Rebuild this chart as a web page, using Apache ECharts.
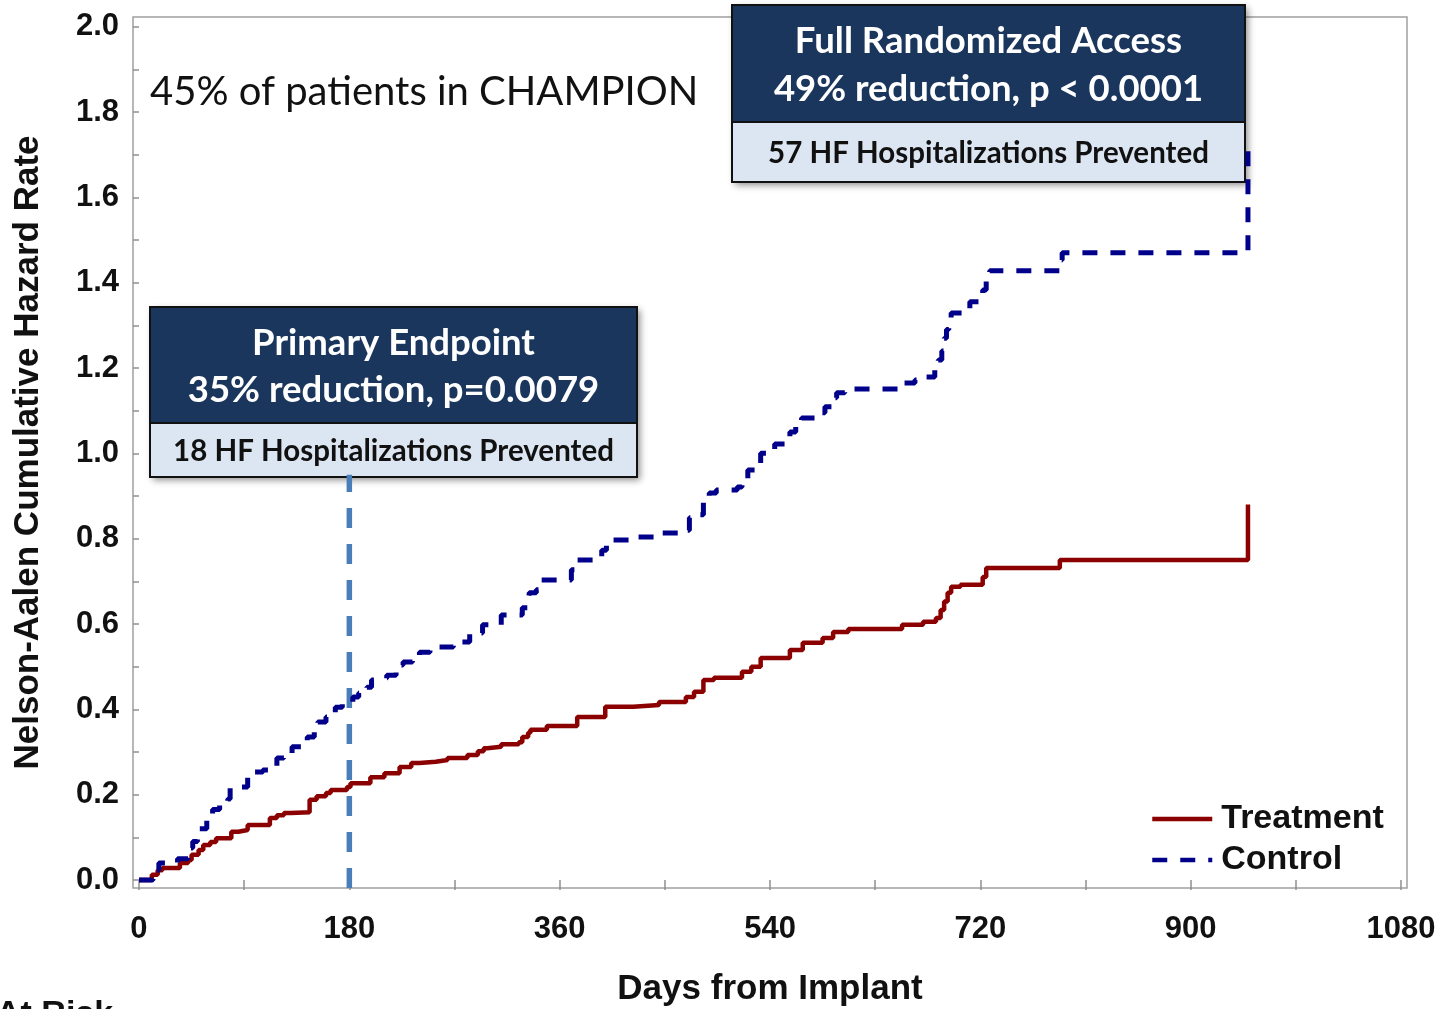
<!DOCTYPE html>
<html>
<head>
<meta charset="utf-8">
<title>CHAMPION – HF Hospitalizations</title>
<script src="https://cdn.jsdelivr.net/npm/echarts@6/dist/echarts.min.js"></script>
<style>
  html, body { margin: 0; padding: 0; background: #fff; }
  #chart { width: 1445px; height: 1009px; }
</style>
</head>
<body>
<div id="chart"></div>
<script>
// Nelson-Aalen cumulative hazard of HF hospitalization, by day of event
const controlDays = [0,12,17,33,42,46,50,58,63,69,76,78,93,97,106,118,124,131,144,150,153,160,168,174,183,188,195,199,206,212,220,226,234,240,249,269,276,283,294,310,328,333,334,340,343,370,375,396,400,422,445,463,471,478,483,488,494,512,516,521,530,532,538,544,557,562,567,583,587,593,597,604,651,664,671,681,684,687,689,691,693,695,711,722,725,728,788,790,949];
const controlHazard = [0,0.023,0.04,0.05,0.075,0.09,0.12,0.15,0.165,0.185,0.19,0.218,0.24,0.253,0.258,0.286,0.297,0.312,0.335,0.347,0.37,0.382,0.405,0.417,0.429,0.438,0.452,0.469,0.473,0.48,0.504,0.511,0.527,0.534,0.546,0.551,0.558,0.579,0.598,0.621,0.638,0.652,0.673,0.68,0.703,0.727,0.75,0.773,0.797,0.804,0.813,0.82,0.849,0.856,0.89,0.907,0.914,0.921,0.938,0.961,0.968,1.0,1.008,1.022,1.05,1.062,1.083,1.095,1.109,1.13,1.142,1.151,1.165,1.172,1.179,1.2,1.219,1.24,1.27,1.29,1.305,1.329,1.355,1.383,1.406,1.428,1.453,1.47,1.72];

const treatmentDays = [0,11,16,20,35,42,45,51,55,61,66,79,85,93,112,118,124,130,146,152,160,164,178,181,198,210,223,233,240,254,264,281,290,295,298,310,325,328,333,335,349,375,399,423,445,468,475,483,492,516,524,532,557,568,585,594,607,653,671,682,686,689,692,695,703,722,725,788,949];
const treatmentHazard = [0,0.012,0.023,0.028,0.04,0.047,0.059,0.07,0.082,0.089,0.098,0.113,0.117,0.129,0.145,0.152,0.157,0.159,0.188,0.196,0.204,0.211,0.218,0.227,0.241,0.25,0.265,0.274,0.277,0.281,0.286,0.293,0.302,0.309,0.312,0.318,0.323,0.335,0.345,0.352,0.361,0.382,0.406,0.41,0.417,0.429,0.441,0.469,0.474,0.488,0.5,0.52,0.539,0.556,0.567,0.581,0.588,0.598,0.605,0.614,0.633,0.653,0.673,0.687,0.692,0.71,0.731,0.75,0.88];

// Axis ticks and labels
const xTickValues = [0,90,180,270,360,450,540,630,720,810,900,990,1080];
const xLabelValues = [0,180,360,540,720,900,1080];
const yTickValues = [0,0.1,0.2,0.3,0.4,0.5,0.6,0.7,0.8,0.9,1.0,1.1,1.2,1.3,1.4,1.5,1.6,1.7,1.8,1.9,2.0];
const yLabelValues = [0,0.2,0.4,0.6,0.8,1.0,1.2,1.4,1.6,1.8,2.0];

// Primary endpoint cut-off (day 180)
const primaryEndpointDay = 180;
const primaryLineTop = 0.95;

const seriesNames = ['Treatment', 'Control'];

const xMin = -5.13, xMax = 1085.1;
const yMin = -0.0188, yMax = 2.0227;

const toPairs = (xs, ys) => xs.map((d, i) => [d, ys[i]]);

const axisFont = '"Liberation Sans", Arial, sans-serif';
const boxFont = 'Lato, "Open Sans", sans-serif';
const navy = '#1b365d';
const pale = '#dce6f2';

const chart = echarts.init(document.getElementById('chart'), null, { renderer: 'canvas' });

function boxGroup(x, y, w, hTop, hBottom, lines, subLine) {
  const cx = x + w / 2;
  return {
    type: 'group',
    z: 100,
    children: [
      { type: 'rect', shape: { x: x, y: y, width: w, height: hTop + hBottom },
        style: { fill: '#fff', shadowBlur: 7, shadowOffsetX: 3, shadowOffsetY: 3, shadowColor: 'rgba(0,0,0,0.45)' } },
      { type: 'rect', shape: { x: x, y: y, width: w, height: hTop },
        style: { fill: navy, stroke: '#111', lineWidth: 2 } },
      { type: 'rect', shape: { x: x, y: y + hTop, width: w, height: hBottom },
        style: { fill: pale, stroke: '#111', lineWidth: 2 } },
      { type: 'text', style: { text: lines[0], x: cx, y: y + hTop * 0.31, align: 'center', verticalAlign: 'middle',
        fill: '#fff', font: 'bold 36.5px ' + boxFont } },
      { type: 'text', style: { text: lines[1], x: cx, y: y + hTop * 0.72, align: 'center', verticalAlign: 'middle',
        fill: '#fff', font: 'bold 36.5px ' + boxFont } },
      { type: 'text', style: { text: subLine, x: cx, y: y + hTop + hBottom / 2 + 1, align: 'center', verticalAlign: 'middle',
        fill: '#111', font: 'bold 29.5px ' + boxFont } }
    ]
  };
}

const option = {
  animation: false,
  backgroundColor: '#fff',
  grid: {
    left: 133, top: 17, width: 1274, height: 871,
    containLabel: false, outerBoundsMode: 'none',
    show: true, borderColor: '#a0a0a0', borderWidth: 1.5, backgroundColor: 'transparent'
  },
  xAxis: {
    type: 'value', min: xMin, max: xMax,
    name: 'Days from Implant', nameLocation: 'middle', nameGap: 84,
    nameTextStyle: { fontFamily: axisFont, fontWeight: 'bold', fontSize: 35, color: '#111' },
    axisLine: { show: false },
    axisTick: { show: true, length: 10, customValues: xTickValues, lineStyle: { color: '#909090', width: 1.5 } },
    axisLabel: { customValues: xLabelValues, margin: 26, fontFamily: axisFont, fontWeight: 'bold', fontSize: 31, color: '#111',
      formatter: v => String(v) },
    splitLine: { show: false }
  },
  yAxis: {
    type: 'value', min: yMin, max: yMax,
    name: 'Nelson-Aalen Cumulative Hazard Rate', nameLocation: 'middle', nameGap: 87, nameRotate: 90,
    nameTextStyle: { fontFamily: axisFont, fontWeight: 'bold', fontSize: 35, color: '#111' },
    axisLine: { show: false },
    axisTick: { show: true, length: 6, customValues: yTickValues, lineStyle: { color: '#909090', width: 1.5 } },
    axisLabel: { customValues: yLabelValues, margin: 14, fontFamily: axisFont, fontWeight: 'bold', fontSize: 31, color: '#111',
      formatter: v => v.toFixed(1) },
    splitLine: { show: false }
  },
  legend: {
    data: seriesNames,
    orient: 'vertical', left: 1150, top: 802, padding: 0,
    itemWidth: 60, itemHeight: 20, itemGap: 7,
    itemStyle: { opacity: 0 },
    lineStyle: { width: 4.5 },
    textStyle: { fontFamily: axisFont, fontWeight: 'bold', fontSize: 34, color: '#111', padding: [0, 0, 0, 4] },
    selectedMode: false
  },
  series: [
    {
      name: 'Primary endpoint', type: 'line', symbol: 'none', silent: true, z: 1,
      data: [[primaryEndpointDay, yMin], [primaryEndpointDay, primaryLineTop]],
      lineStyle: { color: '#4a7ebb', width: 5.5, type: [20, 16] }
    },
    {
      name: 'Treatment', type: 'line', step: 'end', symbol: 'none', z: 3,
      data: toPairs(treatmentDays, treatmentHazard),
      lineStyle: { color: '#8b0000', width: 4.5 },
      itemStyle: { color: '#8b0000' }
    },
    {
      name: 'Control', type: 'line', step: 'end', symbol: 'none', z: 3,
      data: toPairs(controlDays, controlHazard),
      lineStyle: { color: '#00008b', width: 5, type: [15, 13] },
      itemStyle: { color: '#00008b' }
    }
  ],
  graphic: [
    { type: 'text', z: 100, style: { text: '45% of patients in CHAMPION', x: 150, y: 92, align: 'left', verticalAlign: 'middle',
      fill: '#111', font: '40px ' + boxFont } },
    boxGroup(150, 307, 487, 116, 54, ['Primary Endpoint', '35% reduction, p=0.0079'], '18 HF Hospitalizations Prevented'),
    boxGroup(732, 5, 513, 117, 60, ['Full Randomized Access', '49% reduction, p < 0.0001'], '57 HF Hospitalizations Prevented'),
    { type: 'text', z: 100, style: { text: 'At Risk', x: -4, y: 998, align: 'left', verticalAlign: 'top',
      fill: '#111', font: 'bold 34px ' + axisFont } }
  ]
};

chart.setOption(option);
</script>
</body>
</html>
